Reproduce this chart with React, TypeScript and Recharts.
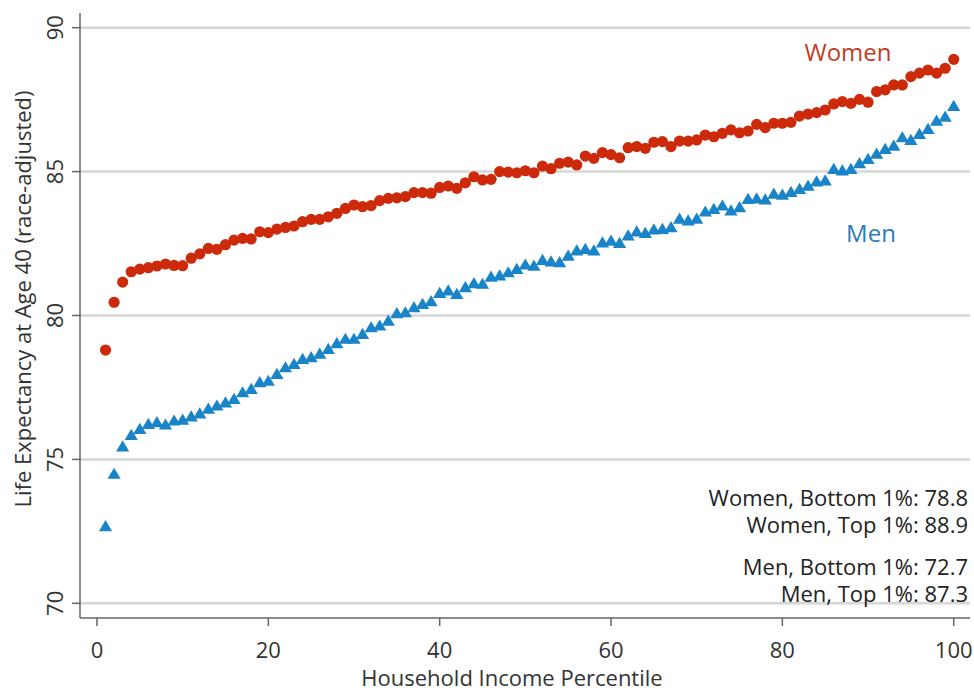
import React from 'react';
import { ScatterChart, Scatter, XAxis, YAxis, CartesianGrid } from 'recharts';

const percentiles: number[] = Array.from({ length: 100 }, (_, i) => i + 1);

const womenValues: number[] = [
  78.8, 80.46, 81.16, 81.52, 81.61, 81.66, 81.72, 81.79, 81.74, 81.73,
  81.99, 82.14, 82.33, 82.3, 82.46, 82.62, 82.68, 82.66, 82.91, 82.88,
  83.0, 83.06, 83.11, 83.26, 83.34, 83.34, 83.43, 83.55, 83.72, 83.84,
  83.78, 83.82, 83.99, 84.07, 84.09, 84.13, 84.27, 84.27, 84.25, 84.45,
  84.5, 84.42, 84.61, 84.82, 84.71, 84.73, 85.0, 84.98, 84.96, 85.03,
  84.96, 85.19, 85.1, 85.29, 85.33, 85.23, 85.54, 85.46, 85.66, 85.59,
  85.48, 85.83, 85.87, 85.81, 86.02, 86.04, 85.87, 86.06, 86.06, 86.1,
  86.27, 86.21, 86.33, 86.45, 86.35, 86.41, 86.64, 86.53, 86.68, 86.68,
  86.71, 86.93, 87.0, 87.05, 87.14, 87.35, 87.43, 87.37, 87.51, 87.41,
  87.78, 87.84, 88.01, 88.01, 88.3, 88.42, 88.53, 88.42, 88.59, 88.9,
];

const menValues: number[] = [
  72.7, 74.52, 75.47, 75.87, 76.08, 76.25, 76.31, 76.23, 76.37, 76.4,
  76.51, 76.62, 76.78, 76.89, 77.0, 77.12, 77.35, 77.47, 77.7, 77.75,
  77.99, 78.22, 78.34, 78.51, 78.57, 78.69, 78.86, 79.06, 79.21, 79.21,
  79.38, 79.61, 79.67, 79.84, 80.1, 80.13, 80.31, 80.42, 80.52, 80.8,
  80.89, 80.77, 81.0, 81.14, 81.12, 81.37, 81.41, 81.52, 81.64, 81.79,
  81.75, 81.95, 81.9, 81.87, 82.1, 82.28, 82.33, 82.28, 82.56, 82.62,
  82.54, 82.8, 82.94, 82.89, 83.01, 83.03, 83.09, 83.38, 83.32, 83.38,
  83.63, 83.72, 83.84, 83.67, 83.78, 84.07, 84.09, 84.05, 84.25, 84.22,
  84.31, 84.42, 84.53, 84.68, 84.71, 85.11, 85.06, 85.11, 85.31, 85.46,
  85.64, 85.81, 85.92, 86.21, 86.12, 86.33, 86.5, 86.79, 86.93, 87.3,
];

const xTicks: number[] = [0, 20, 40, 60, 80, 100];
const yTicks: number[] = [70, 75, 80, 85, 90];

const annotations: string[][] = [
  ['Women, Bottom 1%: 78.8', 'Women, Top 1%: 88.9'],
  ['Men, Bottom 1%: 72.7', 'Men, Top 1%: 87.3'],
];

const WOMEN_COLOR = '#cc2a0a';
const MEN_COLOR = '#1a84c8';
const FONT = '"Open Sans", sans-serif';
const AXIS = '#666666';

const womenData = percentiles.map((p, i) => ({ x: p, y: womenValues[i] }));
const menData = percentiles.map((p, i) => ({ x: p, y: menValues[i] }));

const Circle = (props: any) => {
  const { cx, cy } = props;
  if (cx == null || cy == null) return null;
  return <circle cx={cx} cy={cy} r={5.6} fill={WOMEN_COLOR} />;
};

const Tri = (props: any) => {
  const { cx, cy } = props;
  if (cx == null || cy == null) return null;
  const w = 6.6;
  const h = 5.6;
  return (
    <polygon
      points={`${cx},${cy - h} ${cx - w},${cy + h} ${cx + w},${cy + h}`}
      fill={MEN_COLOR}
    />
  );
};

const YTick = (props: any) => {
  const { y, payload } = props;
  return (
    <text
      transform={`translate(63, ${y}) rotate(-90)`}
      textAnchor="middle"
      fontSize={22}
      fontFamily={FONT}
      fill="#333"
    >
      {payload.value}
    </text>
  );
};

const XTick = (props: any) => {
  const { x, payload } = props;
  return (
    <text x={x} y={658} textAnchor="middle" fontSize={22} fontFamily={FONT} fill="#333">
      {payload.value}
    </text>
  );
};

export default function App() {
  return (
    <div style={{ position: 'absolute', left: 0, top: 0, width: 974, height: 691, background: '#fff', fontFamily: FONT, overflow: 'hidden' }}>
      <ScatterChart
        width={974}
        height={691}
        margin={{ top: 13, right: 4, bottom: 23, left: 20 }}
      >
        <CartesianGrid
          horizontal={true}
          vertical={false}
          stroke="#d6d6d6"
          strokeWidth={2.5}
          horizontalValues={yTicks}
        />
        <XAxis
          type="number"
          dataKey="x"
          domain={[-1.98, 101.9]}
          ticks={xTicks}
          allowDataOverflow
          height={50}
          axisLine={{ stroke: AXIS, strokeWidth: 1.5 }}
          tickLine={{ stroke: AXIS, strokeWidth: 1.5 }}
          tickSize={8}
          tick={<XTick />}
        />
        <YAxis
          type="number"
          dataKey="y"
          domain={[69.49, 90.51]}
          ticks={yTicks}
          allowDataOverflow
          width={60}
          axisLine={{ stroke: AXIS, strokeWidth: 1.5 }}
          tickLine={{ stroke: AXIS, strokeWidth: 1.5 }}
          tickSize={8}
          tick={<YTick />}
        />
        <Scatter data={womenData} shape={<Circle />} isAnimationActive={false} />
        <Scatter data={menData} shape={<Tri />} isAnimationActive={false} />
      </ScatterChart>

      <div
        style={{
          position: 'absolute', left: 22, top: 299, transform: 'translate(-50%, -50%) rotate(-90deg)',
          whiteSpace: 'nowrap', fontSize: 22, color: '#333', lineHeight: '24px',
        }}
      >
        Life Expectancy at Age 40 (race-adjusted)
      </div>
      <div
        style={{
          position: 'absolute', left: 512, top: 677, transform: 'translate(-50%, -50%)',
          whiteSpace: 'nowrap', fontSize: 22, color: '#333', lineHeight: '22px',
        }}
      >
        Household Income Percentile
      </div>

      <div style={{ position: 'absolute', left: 848, top: 52, transform: 'translate(-50%, -50%)', fontSize: 24, color: '#c23b22', lineHeight: '28px' }}>
        Women
      </div>
      <div style={{ position: 'absolute', left: 871, top: 233, transform: 'translate(-50%, -50%)', fontSize: 24, color: '#2b7bb9', lineHeight: '28px' }}>
        Men
      </div>

      <div style={{ position: 'absolute', right: 974 - 968, top: 484, textAlign: 'right', fontSize: 22, color: '#222', lineHeight: '26.5px' }}>
        {annotations[0].map((t) => <div key={t}>{t}</div>)}
        <div style={{ height: 16 }} />
        {annotations[1].map((t) => <div key={t}>{t}</div>)}
      </div>
    </div>
  );
}
